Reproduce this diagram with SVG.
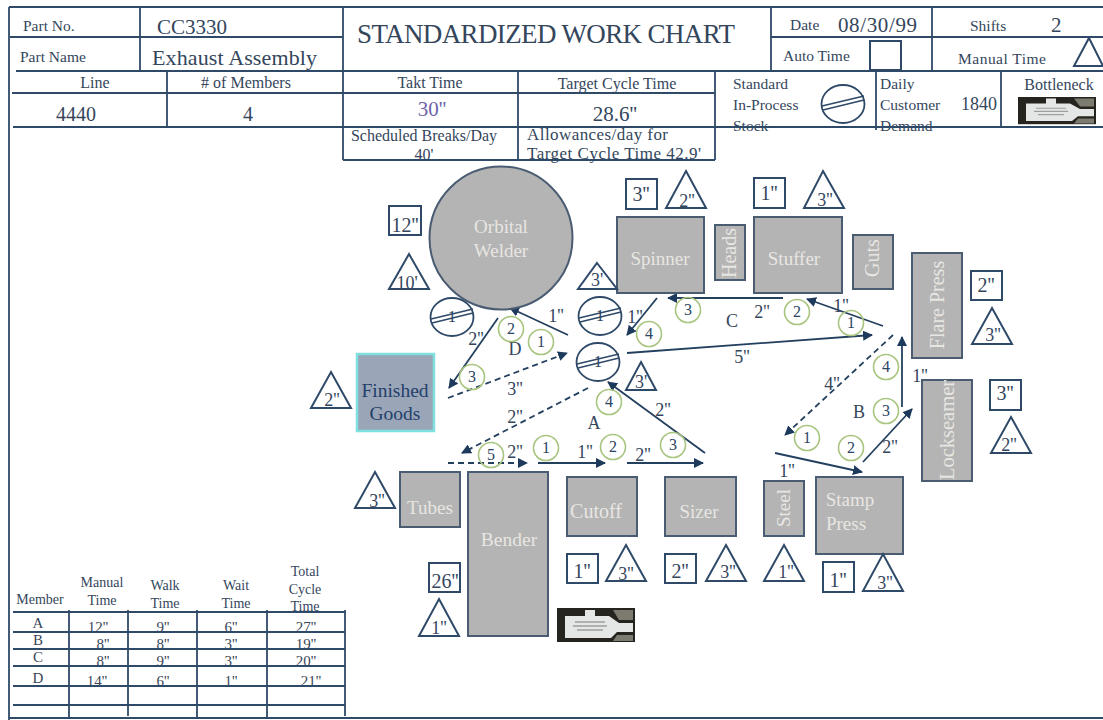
<svg xmlns="http://www.w3.org/2000/svg" width="1103" height="720" viewBox="0 0 1103 720">
<style>
text{font-family:"Liberation Serif","Times New Roman",serif;fill:#34465c}
.l{font-size:15.5px}
.t{font-size:16px;text-anchor:middle}
.tb{font-size:14px;text-anchor:middle}
.d{font-size:15px;text-anchor:middle;fill:#3a4658}
.m{fill:#b4b4b4;stroke:#4a5c72;stroke-width:2}
.n{fill:#e8e6e2;font-size:19px;text-anchor:middle}
.o{fill:#fff;stroke:#2f4a68;stroke-width:2}
.o2{fill:none;stroke:#2f4a68;stroke-width:2}
.h{stroke:#2f4a68;stroke-width:1.8;fill:none}
.a{stroke:#24405f;stroke-width:1.8;fill:none;marker-end:url(#ah)}
.b{stroke:#24405f;stroke-width:1.8;fill:none;stroke-dasharray:6 4;marker-end:url(#ah)}
.s{fill:none;stroke:#a9c580;stroke-width:1.6}
.sn{font-size:16px;text-anchor:middle;fill:#2a4463}
.q{font-size:18px;text-anchor:middle;fill:#34465c}
.bl{font-size:20px;text-anchor:middle;fill:#34465c}
.ml{font-size:18px;text-anchor:middle;fill:#34465c}
</style>
<defs>
<marker id="ah" viewBox="0 0 10 10" refX="9" refY="5" markerWidth="10" markerHeight="10" markerUnits="userSpaceOnUse" orient="auto"><path d="M0 0L10 5L0 10z" fill="#1d3a5c"/></marker>
<g id="wip"><ellipse cx="0" cy="0" rx="21.5" ry="19" fill="#fff" stroke="#2f4a68" stroke-width="1.8"/><path d="M-21 2L21-8M-20 6L21-4" stroke="#2f4a68" stroke-width="1.5" fill="none"/></g>
<g id="bot"><rect width="78" height="34" fill="#26241f"/><path d="M8 8H28V2H38V8H52L62 15H76V24H60L54 30H8Z" fill="#e4e7e6"/><path d="M56 2H76V12H62ZM60 27H76V33H56Z" fill="#7d7a70"/><path d="M18 14H48M16 18H50M20 22H46" stroke="#9aa0a0" stroke-width="1.4" fill="none"/></g>
</defs>
<rect width="1103" height="720" fill="#fff"/>
<g id="chart-frame">
<text class="l" x="23" y="31">Part No.</text>
<text class="l" x="20" y="62">Part Name</text>
<text x="157" y="34" font-size="21">CC3330</text>
<text x="152" y="65" font-size="22" textLength="165">Exhaust Assembly</text>
<text x="357" y="43" font-size="27" textLength="378">STANDARDIZED WORK CHART</text>
<text class="l" x="790" y="30">Date</text>
<text x="838" y="32" font-size="21" textLength="79">08/30/99</text>
<text class="l" x="970" y="31">Shifts</text>
<text x="1051" y="32" font-size="21">2</text>
<text class="l" x="783" y="61">Auto Time</text>
<rect x="870" y="41" width="31" height="29" fill="none" stroke="#2f4a68" stroke-width="2"/>
<text class="l" x="958" y="64" textLength="88">Manual Time</text>
<path class="o2" d="M1074 66L1089 38L1103 66Z"/>
<text class="t" x="95" y="88">Line</text>
<text class="t" x="246" y="88"># of Members</text>
<text class="t" x="430" y="88">Takt Time</text>
<text class="t" x="617" y="89">Target Cycle Time</text>
<text x="76" y="121" font-size="20" text-anchor="middle">4440</text>
<text x="248" y="121" font-size="20" text-anchor="middle">4</text>
<text x="432" y="116" font-size="21" text-anchor="middle" style="fill:#6e64a8">30''</text>
<text x="615" y="121" font-size="21" text-anchor="middle">28.6''</text>
<text class="t" x="424" y="141">Scheduled Breaks/Day</text>
<text class="t" x="424" y="160">40'</text>
<text x="527" y="140" font-size="17" textLength="141">Allowances/day  for</text>
<text x="527" y="159" font-size="17" textLength="174">Target Cycle Time 42.9'</text>
<text class="l" x="733" y="89">Standard</text>
<text class="l" x="733" y="110">In-Process</text>
<text class="l" x="733" y="131">Stock</text>
<use href="#wip" x="843" y="104"/>
<text class="l" x="880" y="89">Daily</text>
<text class="l" x="880" y="110">Customer</text>
<text class="l" x="880" y="131">Demand</text>
<text x="961" y="110" font-size="18">1840</text>
<text class="t" x="1059" y="90">Bottleneck</text>
<use href="#bot" transform="translate(1018 97) scale(1 .8)"/>
<path class="h" d="M9 7H1103M9 7V720M140 7V71M343 7V160M771 7V71M932 7V71M10 37H343M771 37H1103M16 71H1103M12 93H715M167 71V127M518 71V160M715 71V160M876 71V130M1001 71V127M13 127H1103M343 160H715M9 718H1103"/>
</g>
<g id="connectors">
<path class="a" d="M568 335L510 308"/>
<path class="a" d="M498 318L449 388"/>
<path class="b" d="M448 398L567 353"/>
<path class="b" d="M588 388L462 453"/>
<path class="a" d="M705 453L608 382"/>
<path class="b" d="M448 463H527"/>
<path class="a" d="M538 463H605"/>
<path class="a" d="M627 463H703"/>
<path class="a" d="M657 298L627 335"/>
<path class="a" d="M783 298H668"/>
<path class="a" d="M883 326L807 299"/>
<path class="a" d="M627 353L872 335"/>
<path class="b" d="M893 335L785 435"/>
<path class="a" d="M902 407V337"/>
<path class="a" d="M863 462L912 409"/>
<path class="a" d="M775 453L862 472"/>
<g class="labels">
<text class="q" x="556" y="322">1''</text><text class="q" x="476" y="345">2''</text><text class="q" x="515" y="395">3''</text><text class="q" x="515" y="423">2''</text><text class="q" x="663" y="416">2''</text><text class="q" x="635" y="323">1''</text><text class="q" x="515" y="458">2''</text><text class="q" x="585" y="458">1''</text><text class="q" x="643" y="461">2''</text><text class="q" x="762" y="318">2''</text><text class="q" x="841" y="312">1''</text><text class="q" x="742" y="363">5''</text><text class="q" x="832" y="390">4''</text><text class="q" x="920" y="382">1''</text><text class="q" x="890" y="453">2''</text><text class="q" x="787" y="477">1''</text>
<text class="ml" x="515" y="355">D</text><text class="ml" x="594" y="429">A</text><text class="ml" x="732" y="327">C</text><text class="ml" x="859" y="418">B</text>
</g>
</g>
<g id="steps">
<circle class="s" cx="511" cy="329" r="12.5"/><text class="sn" x="511" y="334">2</text>
<circle class="s" cx="541" cy="342" r="12.5"/><text class="sn" x="541" y="347">1</text>
<circle class="s" cx="472" cy="377" r="12.5"/><text class="sn" x="472" y="382">3</text>
<circle class="s" cx="649" cy="334" r="12.5"/><text class="sn" x="649" y="339">4</text>
<circle class="s" cx="688" cy="310" r="12.5"/><text class="sn" x="688" y="315">3</text>
<circle class="s" cx="609" cy="402" r="12.5"/><text class="sn" x="609" y="407">4</text>
<circle class="s" cx="491" cy="455" r="12.5"/><text class="sn" x="491" y="460">5</text>
<circle class="s" cx="546" cy="448" r="12.5"/><text class="sn" x="546" y="453">1</text>
<circle class="s" cx="613" cy="447" r="12.5"/><text class="sn" x="613" y="452">2</text>
<circle class="s" cx="673" cy="445" r="12.5"/><text class="sn" x="673" y="450">3</text>
<circle class="s" cx="797" cy="312" r="12.5"/><text class="sn" x="797" y="317">2</text>
<circle class="s" cx="851" cy="323" r="12.5"/><text class="sn" x="851" y="328">1</text>
<circle class="s" cx="886" cy="367" r="12.5"/><text class="sn" x="886" y="372">4</text>
<circle class="s" cx="886" cy="411" r="12.5"/><text class="sn" x="886" y="416">3</text>
<circle class="s" cx="807" cy="438" r="12.5"/><text class="sn" x="807" y="443">1</text>
<circle class="s" cx="851" cy="448" r="12.5"/><text class="sn" x="851" y="453">2</text>
</g>
<g id="stock">
<use href="#wip" x="452" y="317"/><text class="sn" x="452" y="322">1</text>
<use href="#wip" x="600" y="316"/><text class="sn" x="600" y="321">1</text>
<use href="#wip" x="598" y="362"/><text class="sn" x="598" y="367">1</text>
</g>
<g id="orbital-welder"><circle class="m" cx="501" cy="238" r="71.5"/><text class="n" x="501" y="233">Orbital</text><text class="n" x="501" y="257">Welder</text></g>
<g id="spinner"><rect class="m" x="617" y="217" width="87" height="76"/><text class="n" x="660" y="265">Spinner</text></g>
<g id="heads"><rect class="m" x="715" y="225" width="30" height="55"/><text class="n" style="font-size:20px" transform="translate(736 253) rotate(-90)">Heads</text></g>
<g id="stuffer"><rect class="m" x="754" y="217" width="88" height="76"/><text class="n" x="794" y="265">Stuffer</text></g>
<g id="guts"><rect class="m" x="853" y="235" width="40" height="54"/><text class="n" style="font-size:20px" transform="translate(879 258) rotate(-90)">Guts</text></g>
<g id="flare-press"><rect class="m" x="912" y="253" width="50" height="105"/><text class="n" style="font-size:20px" transform="translate(944 305) rotate(-90)">Flare Press</text></g>
<g id="lockseamer"><rect class="m" x="922" y="380" width="50" height="101"/><text class="n" style="font-size:20.5px" transform="translate(954 430) rotate(-90)">Lockseamer</text></g>
<g id="stamp-press"><rect class="m" x="816" y="477" width="87" height="77"/><text class="n" x="850" y="506">Stamp</text><text class="n" x="846" y="530">Press</text></g>
<g id="steel"><rect class="m" x="764" y="481" width="40" height="55"/><text class="n" transform="translate(790 508) rotate(-90)">Steel</text></g>
<g id="sizer"><rect class="m" x="665" y="477" width="71" height="59"/><text class="n" x="699" y="518">Sizer</text></g>
<g id="cutoff"><rect class="m" x="567" y="477" width="70" height="59"/><text class="n" style="font-size:20px" x="596" y="518">Cutoff</text></g>
<g id="bender"><rect class="m" x="468" y="472" width="80" height="164"/><text class="n" style="font-size:19.5px" x="509" y="546">Bender</text></g>
<g id="tubes"><rect class="m" x="400" y="472" width="60" height="55"/><text class="n" x="430" y="514">Tubes</text></g>
<g id="finished-goods"><rect x="357" y="354" width="77" height="77" fill="#9aa6b8" stroke="#7fe0e0" stroke-width="2.5"/><text x="395" y="397" font-size="19.5" text-anchor="middle" style="fill:#23406a">Finished</text><text x="395" y="420" font-size="19.5" text-anchor="middle" style="fill:#23406a">Goods</text></g>
<g id="bottleneck-tag"><use href="#bot" x="557" y="608"/></g>
<g id="times">
<rect class="o" x="389" y="206" width="32" height="29"/><text class="bl" x="405" y="232">12''</text>
<rect class="o" x="626" y="179" width="31" height="30"/><text class="bl" x="641" y="201">3''</text>
<rect class="o" x="754" y="178" width="31" height="30"/><text class="bl" x="769" y="200">1''</text>
<rect class="o" x="971" y="271" width="31" height="29"/><text class="bl" x="986" y="292">2''</text>
<rect class="o" x="990" y="380" width="31" height="30"/><text class="bl" x="1005" y="400">3''</text>
<rect class="o" x="429" y="563" width="31" height="29"/><text class="bl" x="445" y="588">26''</text>
<rect class="o" x="567" y="554" width="31" height="29"/><text class="bl" x="582" y="578">1''</text>
<rect class="o" x="665" y="554" width="31" height="29"/><text class="bl" x="680" y="578">2''</text>
<rect class="o" x="823" y="562" width="31" height="30"/><text class="bl" x="838" y="587">1''</text>
<path class="o" d="M686 171L706 208H666Z"/><text class="q" x="687" y="207">2''</text>
<path class="o" d="M823 171L844 208H804Z"/><text class="q" x="825" y="206">3''</text>
<path class="o" d="M409 254L429 289H389Z"/><text class="q" x="407" y="289">10'</text>
<path class="o" d="M597 263L617 289H578Z"/><text class="q" x="597" y="286">3'</text>
<path class="o" d="M992 308L1012 344H972Z"/><text class="q" x="993" y="341">3''</text>
<path class="o" d="M1011 417L1031 453H991Z"/><text class="q" x="1009" y="451">2''</text>
<path class="o" d="M331 372L351 408H311Z"/><text class="q" x="332" y="406">2''</text>
<path class="o" d="M641 362L656 390H626Z"/><text class="q" x="641" y="388">3'</text>
<path class="o" d="M375 472L395 508H355Z"/><text class="q" x="377" y="507">3''</text>
<path class="o" d="M439 599L459 636H419Z"/><text class="q" x="439" y="634">1''</text>
<path class="o" d="M626 545L646 581H606Z"/><text class="q" x="626" y="580">3''</text>
<path class="o" d="M726 545L746 581H706Z"/><text class="q" x="728" y="578">3''</text>
<path class="o" d="M784 545L804 581H764Z"/><text class="q" x="786" y="578">1''</text>
<path class="o" d="M883 554L903 591H863Z"/><text class="q" x="885" y="589">3''</text>
</g>
<g id="member-table">
<text class="tb" x="40" y="604">Member</text>
<text class="tb" x="102" y="587">Manual</text><text class="tb" x="102" y="605">Time</text>
<text class="tb" x="165" y="590">Walk</text><text class="tb" x="165" y="608">Time</text>
<text class="tb" x="236" y="590">Wait</text><text class="tb" x="236" y="608">Time</text>
<text class="tb" x="305" y="576">Total</text><text class="tb" x="305" y="594">Cycle</text><text class="tb" x="305" y="611">Time</text>
<text class="d" x="38" y="628">A</text><text class="d" x="98" y="632">12''</text><text class="d" x="163" y="632">9''</text><text class="d" x="231" y="632">6''</text><text class="d" x="306" y="632">27''</text>
<text class="d" x="38" y="645">B</text><text class="d" x="103" y="649">8''</text><text class="d" x="163" y="649">8''</text><text class="d" x="231" y="649">3''</text><text class="d" x="306" y="649">19''</text>
<text class="d" x="38" y="662">C</text><text class="d" x="103" y="666">8''</text><text class="d" x="163" y="666">9''</text><text class="d" x="231" y="666">3''</text><text class="d" x="306" y="666">20''</text>
<text class="d" x="38" y="683">D</text><text class="d" x="97" y="686">14''</text><text class="d" x="163" y="686">6''</text><text class="d" x="231" y="686">1''</text><text class="d" x="311" y="686">21''</text>
<path class="h" d="M13 612H345M13 632H345M13 649H345M13 666H345M13 686H345M13 705H345M69 610V718M128 610V716M197 610V718M267 610V718M345 610V716"/>
</g>
</svg>
